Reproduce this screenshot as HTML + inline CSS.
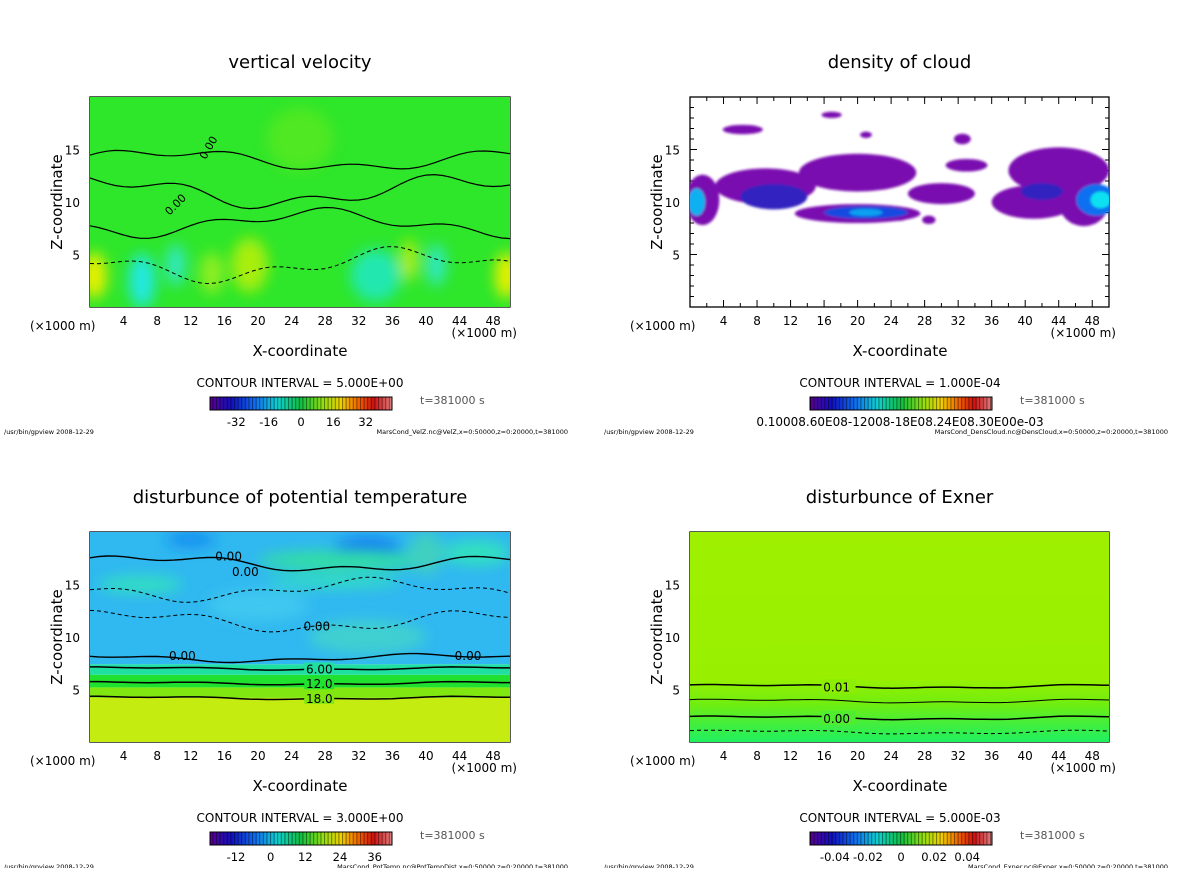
<!DOCTYPE html>
<html><head><meta charset="utf-8">
<style>
html,body{margin:0;padding:0;background:#fff;}
body{width:1200px;height:868px;overflow:hidden;font-family:"Liberation Sans","DejaVu Sans",sans-serif;}
svg text{font-family:"DejaVu Sans","Liberation Sans",sans-serif;}
</style></head>
<body>
<svg id="fig" width="1200" height="868" xmlns="http://www.w3.org/2000/svg">
<defs>
<filter id="blur6" x="-50%" y="-50%" width="200%" height="200%"><feGaussianBlur stdDeviation="7"/></filter>
<filter id="blur2" x="-50%" y="-50%" width="200%" height="200%"><feGaussianBlur stdDeviation="1.2"/></filter>
<linearGradient id="cbar" x1="0" x2="1" y1="0" y2="0">
<stop offset="0" stop-color="#5a0090"/><stop offset="0.12" stop-color="#1010c0"/><stop offset="0.25" stop-color="#1070f0"/>
<stop offset="0.37" stop-color="#10d0d0"/><stop offset="0.5" stop-color="#10c040"/><stop offset="0.62" stop-color="#90e010"/>
<stop offset="0.72" stop-color="#f0d000"/><stop offset="0.82" stop-color="#f06000"/><stop offset="0.9" stop-color="#d01010"/>
<stop offset="1" stop-color="#e08080"/></linearGradient>
<pattern id="stripes" width="3.6" height="20" patternUnits="userSpaceOnUse"><rect x="0" y="0" width="1" height="20" fill="#000" opacity="0.45"/></pattern>
<linearGradient id="exnerGrad" x1="0" x2="0" y1="0" y2="1">
<stop offset="0" stop-color="#9ef000"/><stop offset="0.7" stop-color="#98f000"/><stop offset="0.82" stop-color="#70ee10"/><stop offset="0.92" stop-color="#40ee40"/><stop offset="1" stop-color="#20f060"/></linearGradient>
<clipPath id="clipA"><rect x="90" y="97" width="420" height="210"/></clipPath>
<clipPath id="clipB"><rect x="690" y="97" width="419" height="210"/></clipPath>
<clipPath id="clipC"><rect x="90" y="532" width="420" height="210"/></clipPath>
<clipPath id="clipD"><rect x="690" y="532" width="419" height="210"/></clipPath>
</defs>
</svg>
<script>
// ---- data ----
const xTicks = [4,8,12,16,20,24,28,32,36,40,44,48];
const zTicks = [5,10,15];
const titles = ["vertical velocity","density of cloud","disturbunce of potential temperature","disturbunce of Exner"];
const intervals = ["CONTOUR INTERVAL = 5.000E+00","CONTOUR INTERVAL = 1.000E-04","CONTOUR INTERVAL = 3.000E+00","CONTOUR INTERVAL = 5.000E-03"];
const footers = ["MarsCond_VelZ.nc@VelZ,x=0:50000,z=0:20000,t=381000","MarsCond_DensCloud.nc@DensCloud,x=0:50000,z=0:20000,t=381000","MarsCond_PotTemp.nc@PotTempDist,x=0:50000,z=0:20000,t=381000","MarsCond_Exner.nc@Exner,x=0:50000,z=0:20000,t=381000"];
const cbarLabelsA = ["-32","-16","0","16","32"];
const cbarValsA = [-32,-16,0,16,32];
const cbarLabelsC = ["-12","0","12","24","36"];
const cbarValsC = [-12,0,12,24,36];
const cbarLabelsD = ["-0.04","-0.02","0","0.02","0.04"];
const cbarValsD = [-0.04,-0.02,0,0.02,0.04];
// velocity blobs: [x km, z km, rx km, rz km, color]
const velBlobs = [[0.5,3,1.5,2.2,"#e8f000"],[49.6,3,1.4,2.2,"#e8f000"],[6.2,2.5,1.6,2.6,"#20e8e0"],[10.2,4,1.2,2,"#30e8c0"],
 [19,4,2.2,2.6,"#a8ee10"],[14.5,3.2,1.4,2,"#90ee20"],[34,3,3,2.5,"#20e8b0"],[41.2,4,1.2,2,"#30e8c0"],[38,4.5,1,2,"#b0ee10"],[25,16,4,3,"#50e820"]];
// cloud blobs: [x km, z km, rx km, rz km, color]
const cloudBlobs = [[6.3,16.9,2.4,0.45,"#7a10b0"],[9,11.5,6,1.7,"#7a10b0"],[20,12.8,7,1.8,"#7a10b0"],[20,8.9,7.5,0.9,"#7a10b0"],
 [1.5,10.2,2,2.4,"#7a10b0"],[44,13,6,2.2,"#7a10b0"],[41,10,5,1.6,"#7a10b0"],[30,10.8,4,1,"#7a10b0"],[33,13.5,2.5,0.6,"#7a10b0"],
 [47,10,3,2.3,"#7a10b0"],[25,8.6,1,0.4,"#7a10b0"],[28.5,8.3,0.8,0.4,"#7a10b0"],[16.9,18.3,1.2,0.3,"#7a10b0"],[21,16.4,0.7,0.3,"#7a10b0"],[32.5,16,1,0.5,"#7a10b0"],
 [21,9,5,0.6,"#1848e0"],[10,10.5,4,1.2,"#3020c0"],[0.8,10,1,1.3,"#10b0f0"],[48.5,10.2,2.4,1.5,"#1070f0"],[49,10.2,1.2,0.8,"#10e0f0"],[42,11,2.5,0.8,"#3020c0"],[21,9,2,0.35,"#10a0f0"]];
// potential temperature layers: [z bottom, z top, color]
const ptLayers = [[0,4.2,"#c4ec10"],[4.2,5.2,"#80e810"],[5.2,6.4,"#20e030"],[6.4,7.4,"#20e0a0"],[7.4,20,"#30b8f0"]];
const ptBlobs = [[12,19.3,3,0.8,"#1890f0"],[33,18.4,4,1,"#1070f0"],[30,17.3,10,0.9,"#30e0a0"],[29,15.3,8,0.6,"#30e0c0"],[6,15,5,0.8,"#30e0c0"],[33,10,7,1.6,"#40d0d0"],[46,18,4,1.2,"#30e0c0"],[40,18,2,2,"#40d0c0"],[20,13,6,1.5,"#40c8f0"]];
const ptLines = [[4.2,"18.0"],[5.6,"12.0"],[7.0,"6.00"]];
// exner contour levels (z km)
const exLines = [[5.3,"0.01",true],[3.9,"",false],[2.3,"0.00",true]];
const exDash = 0.95;

// ---- helpers ----
const svg = document.getElementById('fig');
const NS = "http://www.w3.org/2000/svg";
function mk(tag, attrs, parent){const e=document.createElementNS(NS,tag);for(const k in attrs)e.setAttribute(k,attrs[k]);(parent||svg).appendChild(e);return e;}
function txt(s,x,y,size,anchor,parent,name,extra){const t=mk('text',Object.assign({x:x,y:y,'font-size':size,'text-anchor':anchor||'start',fill:'#000'},extra||{}),parent);t.textContent=s;


return t;}
const panels=[{x0:90,y0:97,w:420,h:210},{x0:690,y0:97,w:419,h:210},{x0:90,y0:532,w:420,h:210},{x0:690,y0:532,w:419,h:210}];
function sx(p,v){return p.x0+v/50*p.w;}
function sz(p,v){return p.y0+p.h-v/20*p.h;}
function ell(p,b,g,filt){const e=mk('ellipse',{cx:sx(p,b[0]),cy:sz(p,b[1]),rx:b[2]/50*p.w,ry:b[3]/20*p.h,fill:b[4]},g);if(filt)e.setAttribute('filter',filt);


return e;}
function wavy(p,z,amp,phase,g,stroke,dash,w){let d="";for(let i=0;i<=50;i++){const v=i;const zz=z+amp*Math.sin(v/7+phase)+amp*0.5*Math.sin(v/2.3+phase*2);d+=(i?"L":"M")+sx(p,v).toFixed(1)+","+sz(p,zz).toFixed(1);}
const l=mk('path',{d:d,fill:'none',stroke:stroke||'#000','stroke-width':w||1.4},g);if(dash)l.setAttribute('stroke-dasharray',dash);


return l;}

function frame(i){
 const p=panels[i];
 const g=mk('g',{});
 
 
 txt(titles[i],p.x0+p.w/2,p.y0-29,18,'middle',g,'panel-title');
 const ax=mk('g',{},g);
 
 
 mk('rect',{x:p.x0,y:p.y0,width:p.w,height:p.h,fill:'none',stroke:'#000','stroke-width':1.3},ax);
 for(let v=2;v<50;v+=2){const L=(v%4===0)?7:4;mk('line',{x1:sx(p,v),x2:sx(p,v),y1:p.y0+p.h,y2:p.y0+p.h-L,stroke:'#000'},ax);mk('line',{x1:sx(p,v),x2:sx(p,v),y1:p.y0,y2:p.y0+L,stroke:'#000'},ax);}
 for(let v=1;v<20;v++){const L=(v%5===0)?7:4;mk('line',{x1:p.x0,x2:p.x0+L,y1:sz(p,v),y2:sz(p,v),stroke:'#000'},ax);mk('line',{x1:p.x0+p.w,x2:p.x0+p.w-L,y1:sz(p,v),y2:sz(p,v),stroke:'#000'},ax);}
 xTicks.forEach(v=>txt(String(v),sx(p,v),p.y0+p.h+18,12,'middle',ax,'x-tick-label'));
 zTicks.forEach(v=>txt(String(v),p.x0-10,sz(p,v)+5,12,'end',ax,'z-tick-label'));
 txt("(\u00d71000 m)",p.x0-60,p.y0+p.h+23,12,'start',ax,'x-unit-left');
 txt("(\u00d71000 m)",p.x0+p.w+7,p.y0+p.h+30,12,'end',ax,'x-unit-right');
 txt("X-coordinate",p.x0+210,p.y0+p.h+49,15,'middle',ax,'x-axis-title');
 const zt=txt("Z-coordinate",0,0,15,'middle',ax,'z-axis-title');zt.setAttribute('transform','translate('+(p.x0-28)+','+(p.y0+p.h/2)+') rotate(-90)');
 const base=p.y0+p.h;
 txt(intervals[i],p.x0+210,base+80,12,'middle',g,'contour-interval');
 const cb=mk('g',{},g);
 
 
 mk('rect',{x:p.x0+120,y:base+90,width:182,height:13,fill:'url(#cbar)'},cb);
 mk('rect',{x:p.x0+120,y:base+90,width:182,height:13,fill:'url(#stripes)'},cb);
 mk('rect',{x:p.x0+120,y:base+90,width:182,height:13,fill:'none',stroke:'#000'},cb);
 txt("t=381000 s",p.x0+330,base+97,11,'start',g,'time-label',{fill:'#555'});
 txt("/usr/bin/gpview  2008-12-29",p.x0-86,base+127,6.5,'start',g,'footer-left');
 txt(footers[i],p.x0+478,base+127,6.5,'end',g,'footer-right');
 return {p:p,g:g,base:base};
}
function cbarLabels(f,labels,vals,min,max){const p=f.p;labels.forEach((s,k)=>{const x=p.x0+120+ (vals[k]-min)/(max-min)*182;txt(s,x,f.base+119,11.5,'middle',f.g,'colorbar-tick-label');});}

// ---- panel 1: vertical velocity ----
(function(){const f=frame(0),p=f.p;
 const g=mk('g',{'clip-path':'url(#clipA)'});
 
 
 mk('rect',{x:p.x0,y:p.y0,width:p.w,height:p.h,fill:'#2ee62a'},g);
 const gb=mk('g',{filter:'url(#blur6)'},g);
 velBlobs.forEach(b=>ell(p,b,gb,null));
 wavy(p,14,0.8,0.3,g,'#000',null,1.2); wavy(p,11,1.2,1.5,g,'#000',null,1.2); wavy(p,4,1.2,2.5,g,'#000','4,3',1);
 wavy(p,8,1,4,g,'#000',null,1.2);
 txt("0.00",sx(p,10.5),sz(p,9.5),11,'middle',g,'contour-label',{transform:'rotate(-45 '+sx(p,10.5)+' '+sz(p,9.5)+')'});
 txt("0.00",sx(p,14.5),sz(p,15),11,'middle',g,'contour-label',{transform:'rotate(-60 '+sx(p,14.5)+' '+sz(p,15)+')'});
 cbarLabels(f,cbarLabelsA,cbarValsA,-45,45);
})();
// ---- panel 2: cloud ----
(function(){const f=frame(1),p=f.p;
 const g=mk('g',{'clip-path':'url(#clipB)'});
 
 
 const gb=mk('g',{filter:'url(#blur2)'},g);
 cloudBlobs.forEach(b=>ell(p,b,gb,null));
 txt("0.10008.60E08-12008-18E08.24E08.30E00e-03",p.x0+210,f.base+119,12,'middle',f.g,'colorbar-tick-labels');
})();
// ---- panel 3: potential temperature ----
(function(){const f=frame(2),p=f.p;
 const g=mk('g',{'clip-path':'url(#clipC)'});
 
 
 ptLayers.forEach(l=>{const r=mk('rect',{x:p.x0,y:sz(p,l[1]),width:p.w,height:sz(p,l[0])-sz(p,l[1]),fill:l[2]},g);
  
  });
 const gb=mk('g',{filter:'url(#blur6)'},g);
 ptBlobs.forEach(b=>ell(p,b,gb,null));
 ptLines.forEach(l=>{wavy(p,l[0],0.12,1,g,'#000',null,1.5);
  mk('rect',{x:sx(p,25.5),y:sz(p,l[0])-6,width:30,height:12,fill:ptLayers[ptLines.indexOf(l)+1][2]},g);
  txt(l[1],sx(p,27.3),sz(p,l[0])+5,12,'middle',g,'contour-label');});
 wavy(p,8,0.3,2,g,'#000',null,1.4); wavy(p,17,0.6,0.5,g,'#000',null,1.4); wavy(p,14.5,0.8,3,g,'#000','4,3',1); wavy(p,11.5,0.8,1,g,'#000','4,3',1);
 txt("0.00",sx(p,11),sz(p,8)+2,12,'middle',g,'contour-label');txt("0.00",sx(p,45),sz(p,8)+2,12,'middle',g,'contour-label');
 txt("0.00",sx(p,16.5),sz(p,17.3),12,'middle',g,'contour-label');txt("0.00",sx(p,18.5),sz(p,15.8),12,'middle',g,'contour-label');txt("0.00",sx(p,27),sz(p,10.6),12,'middle',g,'contour-label');
 cbarLabels(f,cbarLabelsC,cbarValsC,-21,42);
})();
// ---- panel 4: exner ----
(function(){const f=frame(3),p=f.p;
 const g=mk('g',{'clip-path':'url(#clipD)'});
 
 
 mk('rect',{x:p.x0,y:p.y0,width:p.w,height:p.h,fill:'url(#exnerGrad)'},g);
 exLines.forEach(l=>{wavy(p,l[0],0.15,0.5,g,'#000',null,l[2]?1.5:1);
  if(l[1]){mk('rect',{x:sx(p,15.7),y:sz(p,l[0])-7,width:34,height:14,fill:l[0]>4?'#8cee00':'#50ec30'},g);
  txt(l[1],sx(p,17.5),sz(p,l[0])+5,12,'middle',g,'contour-label');}});
 wavy(p,exDash,0.15,0.5,g,'#000','4,3',1);
 cbarLabels(f,cbarLabelsD,cbarValsD,-0.055,0.055);
})();
</script>
</body></html>
